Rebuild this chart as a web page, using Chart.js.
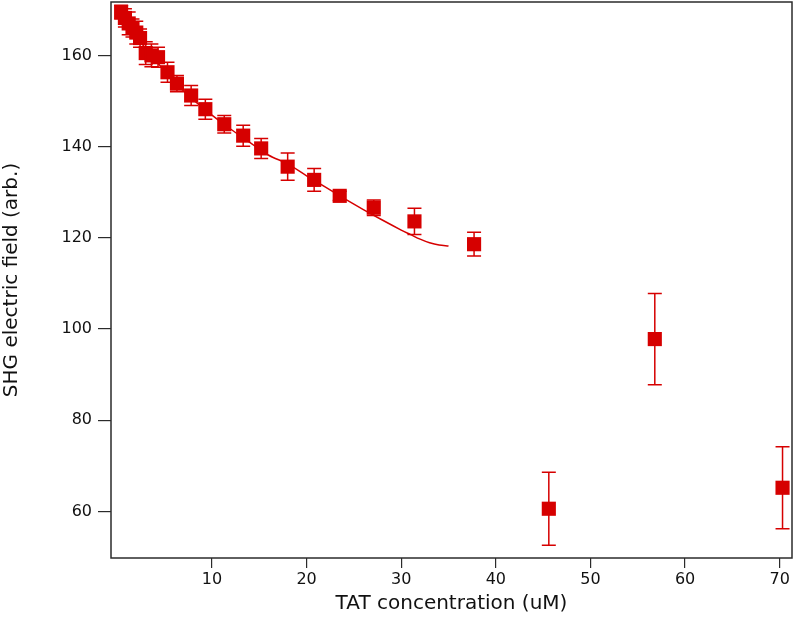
<!DOCTYPE html>
<html>
<head>
<meta charset="utf-8">
<script src="https://cdn.jsdelivr.net/npm/chart.js@4.4.0/dist/chart.umd.min.js"></script>
<style>
  html,body{margin:0;padding:0;background:#fff;}
  #wrap{width:796px;height:640px;}
</style>
</head>
<body>
<div id="wrap"><canvas id="shgChart" width="796" height="640"></canvas></div>
<script>
// measured points
const conc = [0.4, 0.8, 1.2, 1.6, 2.0, 2.4, 3.0, 3.6, 4.3, 5.3, 6.3, 7.8, 9.3, 11.3, 13.3, 15.2, 18.0, 20.8, 23.5, 27.1, 31.4, 37.7, 45.6, 56.8, 70.3];
const field = [169.5, 168.2, 167.0, 166.0, 165.0, 163.8, 160.5, 160.0, 159.6, 156.3, 153.8, 151.2, 148.2, 144.9, 142.4, 139.6, 135.6, 132.7, 129.2, 126.6, 123.6, 118.6, 60.6, 97.8, 65.2];
const fieldErr = [1.5, 2.0, 2.5, 2.0, 2.5, 2.0, 2.5, 2.5, 2.2, 2.2, 1.8, 2.2, 2.2, 1.9, 2.3, 2.2, 3.0, 2.5, 1.0, 1.7, 2.9, 2.6, 8.0, 10.0, 9.0];

// fit curve
const fitConc = [0, 1, 2, 3, 4, 5, 6, 7, 8, 10, 12, 14, 16, 18, 20, 22, 24, 26, 28, 30, 31, 32, 33, 34, 35];
const fitField = [170.0, 167.0, 164.2, 161.5, 159.0, 156.6, 154.3, 152.2, 150.3, 146.9, 143.8, 140.9, 138.1, 136.2, 133.6, 131.1, 128.6, 126.2, 123.9, 121.7, 120.7, 119.7, 118.9, 118.4, 118.2];

const xTicks = [10, 20, 30, 40, 50, 60, 70];
const yTicks = [60, 80, 100, 120, 140, 160];

const red = '#d60000';
const axisColor = '#2b2b2b';

// error bars drawn with the chart's scales
const errorBars = {
  id: 'errorBars',
  afterDatasetsDraw(chart){
    const {ctx, scales:{x, y}} = chart;
    ctx.save();
    ctx.strokeStyle = red;
    ctx.lineWidth = 1.5;
    conc.forEach((c, i) => {
      const px = x.getPixelForValue(c);
      const top = y.getPixelForValue(field[i] + fieldErr[i]);
      const bot = y.getPixelForValue(field[i] - fieldErr[i]);
      ctx.beginPath();
      ctx.moveTo(px, top); ctx.lineTo(px, bot);
      ctx.moveTo(px - 7, top); ctx.lineTo(px + 7, top);
      ctx.moveTo(px - 7, bot); ctx.lineTo(px + 7, bot);
      ctx.stroke();
    });
    ctx.restore();
  }
};

const frame = {
  id: 'frame',
  afterDraw(chart){
    const {ctx, chartArea:a} = chart;
    ctx.save();
    ctx.strokeStyle = axisColor;
    ctx.lineWidth = 1.5;
    ctx.strokeRect(a.left, a.top, a.right - a.left, a.bottom - a.top);
    ctx.restore();
  }
};

const tickFont = {family:'DejaVu Sans', size:16};
const titleFont = {family:'DejaVu Sans', size:20};

new Chart(document.getElementById('shgChart'), {
  type:'scatter',
  data:{
    datasets:[
      {
        label:'fit',
        data:fitConc.map((c, i) => ({x:c, y:fitField[i]})),
        showLine:true,
        borderColor:red,
        borderWidth:1.5,
        pointRadius:0,
        tension:0.3,
        order:2
      },
      {
        label:'data',
        data:conc.map((c, i) => ({x:c, y:field[i]})),
        pointStyle:'rect',
        pointRadius:10,
        pointHoverRadius:10,
        backgroundColor:red,
        borderColor:red,
        borderWidth:0,
        order:1
      }
    ]
  },
  options:{
    responsive:false,
    animation:false,
    layout:{autoPadding:false, padding:{top:2, right:4, left:0, bottom:24}},
    plugins:{legend:{display:false}, tooltip:{enabled:false}},
    scales:{
      x:{
        type:'linear',
        min:-0.67, max:71.3,
        afterBuildTicks: s => { s.ticks = xTicks.map(v => ({value:v})); },
        afterFit: s => { s.height = 58; s.paddingLeft = 0; s.paddingRight = 0; },
        ticks:{color:'#111', font:tickFont, padding:2, autoSkip:false},
        grid:{drawOnChartArea:false, color:axisColor, tickLength:10, lineWidth:1.2},
        border:{display:false},
        title:{display:true, text:'TAT concentration (uM)', color:'#111', font:titleFont, padding:{top:0, bottom:0}}
      },
      y:{
        type:'linear',
        min:49.8, max:171.7,
        afterBuildTicks: s => { s.ticks = yTicks.map(v => ({value:v})); },
        afterFit: s => { s.width = 111; s.paddingTop = 0; s.paddingBottom = 0; },
        ticks:{color:'#111', font:tickFont, padding:6, autoSkip:false},
        grid:{drawOnChartArea:false, color:axisColor, tickLength:13, lineWidth:1.2},
        border:{display:false},
        title:{display:true, text:'SHG electric field (arb.)', color:'#111', font:titleFont, padding:{top:0, bottom:0}}
      }
    }
  },
  plugins:[errorBars, frame]
});
</script>
</body>
</html>
